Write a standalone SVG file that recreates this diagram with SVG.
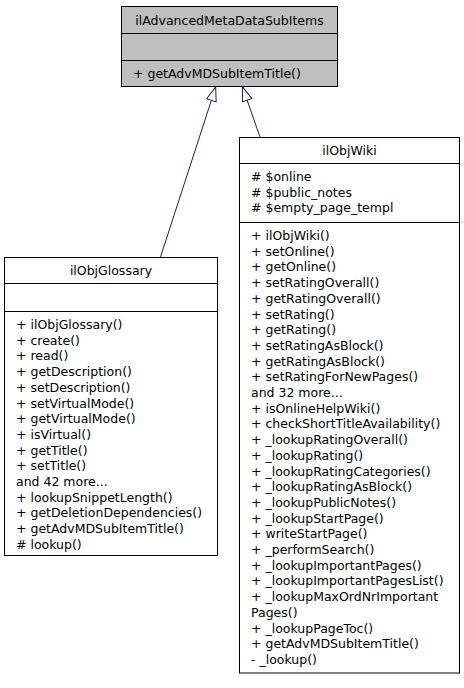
<svg xmlns="http://www.w3.org/2000/svg" width="464" height="688" viewBox="0 0 464 688">
<style>
  .box { fill: #ffffff; stroke: #000000; stroke-width: 1; }
  .base { fill: #bfbfbf; stroke: #000000; stroke-width: 1; }
  .div { stroke: #000000; stroke-width: 1; }
  text { font-family: "DejaVu Sans", "Liberation Sans", sans-serif; font-size: 12.5px; fill: #000000; }
  .title { text-anchor: middle; }
  .edge { fill: none; stroke: #191970; stroke-width: 1; }
</style>
<defs>
  <marker id="inherit" viewBox="0 0 14 10" refX="14" refY="5" markerWidth="14" markerHeight="10" markerUnits="userSpaceOnUse" orient="auto" overflow="visible">
    <path d="M0,0 L14,5 L0,10 Z" fill="#ffffff" stroke="#191970" stroke-width="1"/>
  </marker>
</defs>
<rect width="464" height="688" fill="#ffffff"/>

<g id="edges">
  <path class="edge" d="M160.5,257 L215.7,87" marker-end="url(#inherit)"/>
  <path class="edge" d="M260,137 L242.5,87" marker-end="url(#inherit)"/>
</g>

<g id="ilAdvancedMetaDataSubItems">
  <rect class="base" x="121.5" y="6.5" width="216" height="80"/>
  <line class="div" x1="121.5" y1="33.5" x2="337.5" y2="33.5"/>
  <line class="div" x1="121.5" y1="60.5" x2="337.5" y2="60.5"/>
  <text class="title" x="229.5" y="25">ilAdvancedMetaDataSubItems</text>
  <text x="133" y="78">+ getAdvMDSubItemTitle()</text>
</g>

<g id="ilObjGlossary">
  <rect class="box" x="4.5" y="257.5" width="213" height="298"/>
  <line class="div" x1="4.5" y1="283.5" x2="217.5" y2="283.5"/>
  <line class="div" x1="4.5" y1="311.5" x2="217.5" y2="311.5"/>
  <text class="title" x="111" y="275">ilObjGlossary</text>
  <text x="16" y="329">+ ilObjGlossary()</text>
  <text x="16" y="344.7">+ create()</text>
  <text x="16" y="360.4">+ read()</text>
  <text x="16" y="376.1">+ getDescription()</text>
  <text x="16" y="391.8">+ setDescription()</text>
  <text x="16" y="407.5">+ setVirtualMode()</text>
  <text x="16" y="423.2">+ getVirtualMode()</text>
  <text x="16" y="438.9">+ isVirtual()</text>
  <text x="16" y="454.6">+ getTitle()</text>
  <text x="16" y="470.3">+ setTitle()</text>
  <text x="16" y="486">and 42 more...</text>
  <text x="16" y="501.7">+ lookupSnippetLength()</text>
  <text x="16" y="517.4">+ getDeletionDependencies()</text>
  <text x="16" y="533.1">+ getAdvMDSubItemTitle()</text>
  <text x="16" y="548.8"># lookup()</text>
</g>

<g id="ilObjWiki">
  <rect class="box" x="239.5" y="137.5" width="220" height="535.5"/>
  <line class="div" x1="239.5" y1="163.5" x2="459.5" y2="163.5"/>
  <line class="div" x1="239.5" y1="222.5" x2="459.5" y2="222.5"/>
  <text class="title" x="349.5" y="155">ilObjWiki</text>
  <text x="251" y="181"># $online</text>
  <text x="251" y="196.7"># $public_notes</text>
  <text x="251" y="212.4"># $empty_page_templ</text>
  <text x="251" y="240">+ ilObjWiki()</text>
  <text x="251" y="255.7">+ setOnline()</text>
  <text x="251" y="271.4">+ getOnline()</text>
  <text x="251" y="287.1">+ setRatingOverall()</text>
  <text x="251" y="302.8">+ getRatingOverall()</text>
  <text x="251" y="318.5">+ setRating()</text>
  <text x="251" y="334.2">+ getRating()</text>
  <text x="251" y="349.9">+ setRatingAsBlock()</text>
  <text x="251" y="365.6">+ getRatingAsBlock()</text>
  <text x="251" y="381.3">+ setRatingForNewPages()</text>
  <text x="251" y="397">and 32 more...</text>
  <text x="251" y="412.7">+ isOnlineHelpWiki()</text>
  <text x="251" y="428.4">+ checkShortTitleAvailability()</text>
  <text x="251" y="444.1">+ _lookupRatingOverall()</text>
  <text x="251" y="459.8">+ _lookupRating()</text>
  <text x="251" y="475.5">+ _lookupRatingCategories()</text>
  <text x="251" y="491.2">+ _lookupRatingAsBlock()</text>
  <text x="251" y="506.9">+ _lookupPublicNotes()</text>
  <text x="251" y="522.6">+ _lookupStartPage()</text>
  <text x="251" y="538.3">+ writeStartPage()</text>
  <text x="251" y="554">+ _performSearch()</text>
  <text x="251" y="569.7">+ _lookupImportantPages()</text>
  <text x="251" y="585.4">+ _lookupImportantPagesList()</text>
  <text x="251" y="601.1">+ _lookupMaxOrdNrImportant</text>
  <text x="251" y="616.8">Pages()</text>
  <text x="251" y="632.5">+ _lookupPageToc()</text>
  <text x="251" y="648.2">+ getAdvMDSubItemTitle()</text>
  <text x="251" y="663.9">- _lookup()</text>
</g>
</svg>
